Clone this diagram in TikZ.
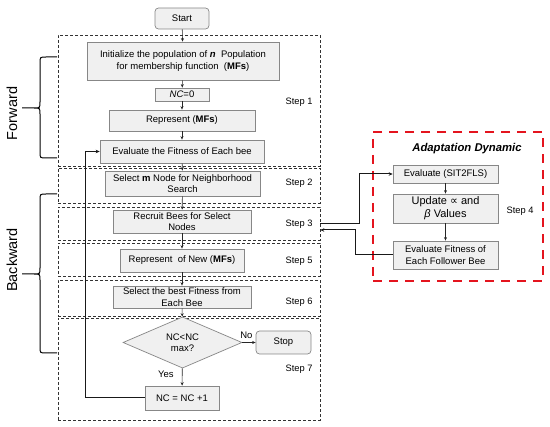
\documentclass[tikz,border=0pt]{standalone}
\usepackage{fontspec}
\setmainfont{Liberation Sans}
\newfontfamily\dejavu{DejaVu Sans}
\usetikzlibrary{shapes.geometric,arrows.meta}
\definecolor{boxfill}{RGB}{240,240,240}
\definecolor{boxdraw}{RGB}{135,135,135}
\definecolor{adred}{RGB}{228,20,30}
\tikzset{
  box/.style={draw=boxdraw, fill=boxfill, line width=0.7pt, inner sep=1pt, align=center,
    font=\fontsize{9.5}{11.5}\selectfont},
  rbox/.style={box, rounded corners=3.5pt},
  frame/.style={draw=black!80, line width=0.6pt, dash pattern=on 3pt off 2pt, inner sep=0pt},
  conn/.style={draw=black!85, line width=0.6pt, -{Stealth[length=3.5pt,width=3pt]}},
  thick conn/.style={draw=black!90, line width=1pt, -{Stealth[length=4pt,width=3.5pt]}},
  steplabel/.style={anchor=east, font=\fontsize{9.3}{11}\selectfont},
  brace line/.style={draw=black, line width=1pt},
  side label/.style={rotate=90, font=\fontsize{14.5}{16}\selectfont},
}
\begin{document}
\begin{tikzpicture}[x=1pt, y=-1pt]
\useasboundingbox (0,0) rectangle (550,427);

% dashed step frames
\node[frame, minimum width=262pt, minimum height=131pt] (f1) at (189,100.5) {};
\node[frame, minimum width=262pt, minimum height=35pt] (f2) at (189,185.5) {};
\node[frame, minimum width=262pt, minimum height=33pt] (f3) at (189,223.5) {};
\node[frame, minimum width=262pt, minimum height=33pt] (f5) at (189,259.5) {};
\node[frame, minimum width=262pt, minimum height=36pt] (f6) at (189,298) {};
\node[frame, minimum width=262pt, minimum height=102pt] (f7) at (189,369) {};

\node[steplabel] (s1) at (316,102) {Step 1};
\node[steplabel] (s2) at (316,183) {Step 2};
\node[steplabel] (s3) at (316,224) {Step 3};
\node[steplabel] (s5) at (316,261) {Step 5};
\node[steplabel] (s6) at (316,302) {Step 6};
\node[steplabel] (s7) at (316,369) {Step 7};

% main flow boxes
\node[rbox, minimum width=54pt, minimum height=21pt] (start) at (182,18.5) {Start};
\node[box, minimum width=192pt, minimum height=38pt] (init) at (183,61)
  {Initialize the population of \textbf{\textit{n}}\ \ Population\\for membership function\ \ (\textbf{MFs})};
\node[box, minimum width=54pt, minimum height=13pt] (nc0) at (182,94.5) {\textit{NC}=0};
\node[box, minimum width=146pt, minimum height=21pt] (rep) at (182,120.5) {Represent (\textbf{MFs})};
\node[box, minimum width=164pt, minimum height=23pt] (eval) at (182,151.5) {Evaluate the Fitness of Each bee};
\node[box, minimum width=155pt, minimum height=25pt] (selm) at (182.5,183.5) {Select \textbf{m} Node for Neighborhood\\Search};
\node[box, minimum width=138pt, minimum height=23pt] (recruit) at (182,221.5) {Recruit Bees for Select\\Nodes};
\node[box, minimum width=124pt, minimum height=23pt] (repnew) at (182,260.5) {Represent\ \ of New (\textbf{MFs})};
\node[box, minimum width=138pt, minimum height=22pt] (selbest) at (182,297) {Select the best Fitness from\\Each Bee};
\node[box, diamond, inner sep=0pt, minimum width=119pt, minimum height=41pt] (dec) at (182.5,342.5) {NC\textless NC\\max?};
\node[rbox, minimum width=55pt, minimum height=23pt] (stop) at (283.5,342.5) {Stop};
\node[box, minimum width=74pt, minimum height=24pt] (nc1) at (182,398) {NC = NC +1};

\draw[conn] (start) -- (init);
\draw[conn] (init) -- (nc0);
\draw[conn] (nc0) -- (rep);
\draw[conn] (rep) -- (eval);
\draw[conn] (eval) -- (selm);
\draw[conn] (selm) -- (recruit);
\draw[conn] (recruit) -- (repnew);
\draw[conn] (repnew) -- (selbest);
\draw[conn] (selbest) -- (dec);
\draw[conn] (dec) -- node[pos=0.35, left=5pt, font=\fontsize{9.5}{11}\selectfont] (yes) {Yes} (nc1);
\draw[conn] (dec.east) -- node[pos=0.3, above=0pt, font=\fontsize{9.5}{11}\selectfont] (no) {No} (stop.west);
\draw[thick conn] (nc1.west) -- ++(-59,0) |- (eval.west);

% adaptation dynamic
\node[draw=adred, line width=2.6pt, dash pattern=on 9pt off 7pt, minimum width=170pt, minimum height=149pt, inner sep=0pt] (adbox) at (458,206.5) {};
\node[font=\bfseries\itshape\fontsize{11.3}{13}\selectfont] (adtitle) at (467,149) {Adaptation Dynamic};
\node[box, minimum width=105pt, minimum height=18pt] (esit) at (445.5,174) {Evaluate (SIT2FLS)};
\node[box, minimum width=105pt, minimum height=29pt, font=\fontsize{11}{13}\selectfont] (upd) at (445.5,208.5) {Update {\dejavu ∝} and\\\textit{β} Values};
\node[box, minimum width=105pt, minimum height=28pt] (evf) at (445.5,255) {Evaluate Fitness of\\Each Follower Bee};
\node[steplabel] (s4) at (537,211) {Step 4};

\draw[conn] (esit) -- (upd);
\draw[conn] (upd) -- (evf);
\draw[thick conn] (f3.east) -- ++(39,0) |- (esit.west);
\draw[thick conn] (evf.west) -- ++(-37,0) |- ([yshift=-6.5pt]f3.east);

% braces
\draw[brace line] (57,57) -- (46,57) .. controls (40,57) .. (40,63) -- (40,102)
  .. controls (40,108) .. (34,108) -- (22,108) -- (34,108) .. controls (40,108) .. (40,114)
  -- (40,152) .. controls (40,158) .. (46,158) -- (57,158);
\draw[brace line] (57,194) -- (46,194) .. controls (40,194) .. (40,200) -- (40,268)
  .. controls (40,274) .. (34,274) -- (22,274) -- (34,274) .. controls (40,274) .. (40,280)
  -- (40,347) .. controls (40,353) .. (46,353) -- (57,353);
\node[side label] (fwd) at (12,113.5) {Forward};
\node[side label] (bwd) at (12,260) {Backward};
\end{tikzpicture}
\end{document}
